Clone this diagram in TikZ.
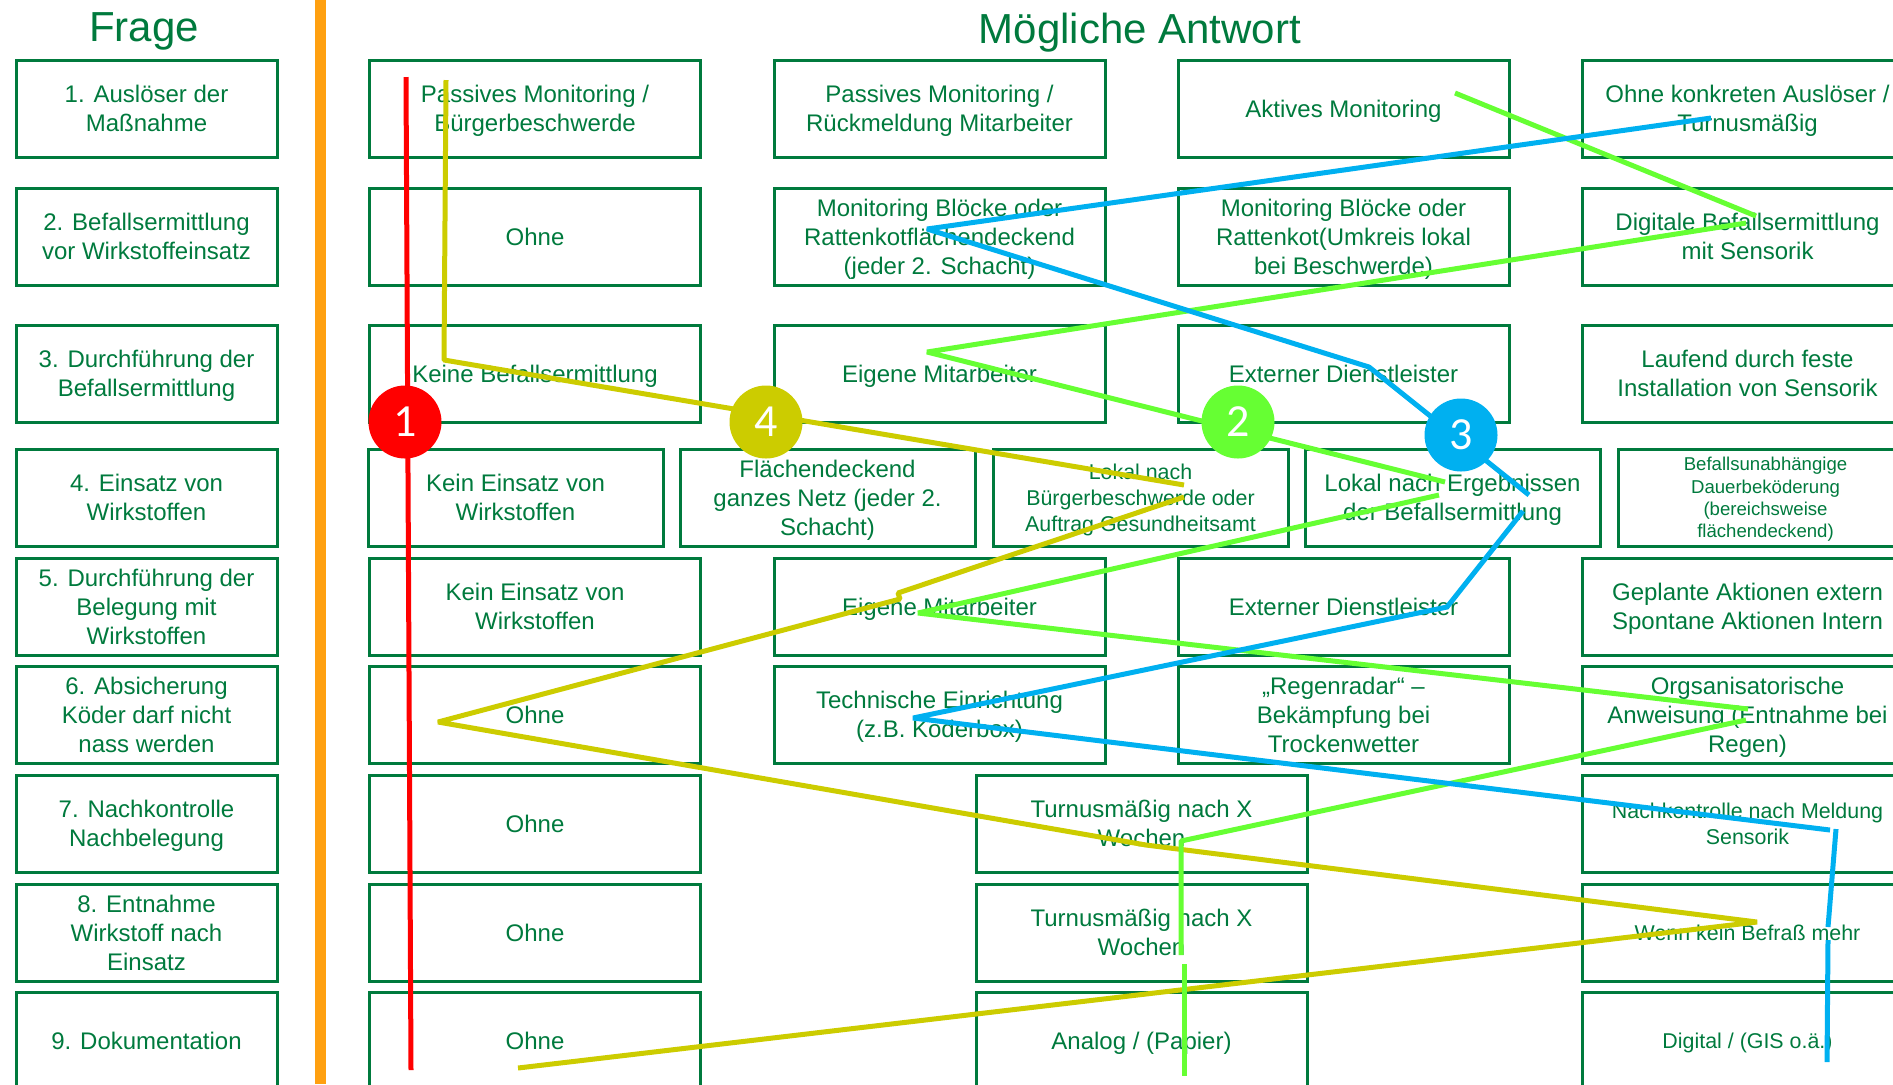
\documentclass[tikz,border=0pt]{standalone}
\usepackage{fontspec}
\setmainfont{Liberation Sans}
\newfontfamily\digitfont{Carlito}

\definecolor{frgreen}{RGB}{0,122,61}
\definecolor{barorange}{RGB}{255,160,16}
\definecolor{pathred}{RGB}{255,0,0}
\definecolor{pathyellow}{RGB}{204,204,0}
\definecolor{pathgreen}{RGB}{102,255,51}
\definecolor{pathblue}{RGB}{0,176,240}

\newcommand{\normaltext}{\fontsize{12}{14.6}\selectfont}
\newcommand{\smalltext}{\fontsize{10.7}{13}\selectfont}
\newcommand{\tinytext}{\fontsize{9.3}{11.1}\selectfont}

\begin{document}
\begin{tikzpicture}[x=0.5pt, y=-0.5pt,
    cellbox/.style={draw=frgreen, line width=1.5pt, text=frgreen, align=center,
        inner sep=0pt, minimum height=48.5pt, font=\normaltext,
        execute at begin node={\rule{0pt}{1em}},
        execute at end node={\rule[-0.212em]{0pt}{0.212em}}},
    stacked/.style={text depth=-3pt},
    qbox/.style={cellbox, minimum width=130.5pt},
    abox/.style={cellbox, minimum width=165.5pt},
    nbox/.style={cellbox, minimum width=147.5pt},
    heading/.style={text=frgreen, font=\fontsize{21}{25}\selectfont, anchor=base},
    route/.style={line width=2.5pt, line join=bevel},
    badge/.style={circle, fill=#1, text=white, minimum size=36.5pt, inner sep=0pt,
        font=\digitfont\fontsize{23}{23}\selectfont}]
    \useasboundingbox (0,0) rectangle (1893,1084);

    % Headings
    \node[heading] (frage) at (144,41) {Frage};
    \node[heading] (antwort) at (1140,43) {Mögliche Antwort};

    % Separator
    \fill[barorange] (315,0) rectangle (326,1084);

    % Questions
    \node[qbox, stacked] (q1) at (146.5,108.5) {1. Auslöser der\\Maßnahme};
    \node[qbox, stacked] (q2) at (146.5,236.5) {2. Befallsermittlung\\vor Wirkstoffeinsatz};
    \node[qbox, stacked] (q3) at (146.5,373.5) {3. Durchführung der\\Befallsermittlung};
    \node[qbox, stacked] (q4) at (146.5,497.5) {4. Einsatz von\\Wirkstoffen};
    \node[qbox, stacked] (q5) at (146.5,606.5) {5. Durchführung der\\Belegung mit\\Wirkstoffen};
    \node[qbox, stacked] (q6) at (146.5,714.5) {6. Absicherung\\Köder darf nicht\\nass werden};
    \node[qbox, stacked] (q7) at (146.5,823.5) {7. Nachkontrolle\\Nachbelegung};
    \node[qbox, stacked] (q8) at (146.5,932.5) {8. Entnahme\\Wirkstoff nach\\Einsatz};
    \node[qbox] (q9) at (146.5,1040.5) {9. Dokumentation};

    % Row 1
    \node[abox, stacked] (a1) at (535,108.5) {Passives Monitoring /\\Bürgerbeschwerde};
    \node[abox, stacked] (b1) at (939.5,108.5) {Passives Monitoring /\\Rückmeldung Mitarbeiter};
    \node[abox] (c1) at (1343.5,108.5) {Aktives Monitoring};
    \node[abox, stacked] (d1) at (1747.5,108.5) {Ohne konkreten Auslöser /\\Turnusmäßig};

    % Row 2
    \node[abox] (a2) at (535,236.5) {Ohne};
    \node[abox, stacked] (b2) at (939.5,236.5) {Monitoring Blöcke oder\\Rattenkotflächendeckend\\(jeder 2. Schacht)};
    \node[abox, stacked] (c2) at (1343.5,236.5) {Monitoring Blöcke oder\\Rattenkot(Umkreis lokal\\bei Beschwerde)};
    \node[abox, stacked] (d2) at (1747.5,236.5) {Digitale Befallsermittlung\\mit Sensorik};

    % Row 3
    \node[abox] (a3) at (535,373.5) {Keine Befallsermittlung};
    \node[abox] (b3) at (939.5,373.5) {Eigene Mitarbeiter};
    \node[abox] (c3) at (1343.5,373.5) {Externer Dienstleister};
    \node[abox, stacked] (d3) at (1747.5,373.5) {Laufend durch feste\\Installation von Sensorik};

    % Row 4
    \node[nbox, stacked] (a4) at (515.5,497.5) {Kein Einsatz von\\Wirkstoffen};
    \node[nbox, stacked] (b4) at (827.5,497.5) {Flächendeckend\\ganzes Netz (jeder 2.\\Schacht)};
    \node[nbox, stacked, font=\smalltext] (c4) at (1140.5,497.5) {Lokal nach\\Bürgerbeschwerde oder\\Auftrag Gesundheitsamt};
    \node[nbox, stacked] (d4) at (1452.5,497.5) {Lokal nach Ergebnissen\\der Befallsermittlung};
    \node[nbox, stacked, font=\tinytext] (e4) at (1765.5,497.5) {Befallsunabhängige\\Dauerbeköderung\\(bereichsweise\\flächendeckend)};

    % Row 5
    \node[abox, stacked] (a5) at (535,606.5) {Kein Einsatz von\\Wirkstoffen};
    \node[abox] (b5) at (939.5,606.5) {Eigene Mitarbeiter};
    \node[abox] (c5) at (1343.5,606.5) {Externer Dienstleister};
    \node[abox, stacked] (d5) at (1747.5,606.5) {Geplante Aktionen extern\\Spontane Aktionen Intern};

    % Row 6
    \node[abox] (a6) at (535,714.5) {Ohne};
    \node[abox, stacked] (b6) at (939.5,714.5) {Technische Einrichtung\\(z.B. Köderbox)};
    \node[abox, stacked] (c6) at (1343.5,714.5) {„Regenradar“ --\\Bekämpfung bei\\Trockenwetter};
    \node[abox, stacked] (d6) at (1747.5,714.5) {Orgsanisatorische\\Anweisung (Entnahme bei\\Regen)};

    % Rows 7 to 9
    \node[abox] (a7) at (535,823.5) {Ohne};
    \node[abox, stacked] (m7) at (1141.5,823.5) {Turnusmäßig nach X\\Wochen};
    \node[abox, stacked, font=\smalltext] (d7) at (1747.5,823.5) {Nachkontrolle nach Meldung\\Sensorik};
    \node[abox] (a8) at (535,932.5) {Ohne};
    \node[abox, stacked] (m8) at (1141.5,932.5) {Turnusmäßig nach X\\Wochen};
    \node[abox, font=\smalltext] (d8) at (1747.5,932.5) {Wenn kein Befraß mehr};
    \node[abox] (a9) at (535,1040.5) {Ohne};
    \node[abox] (m9) at (1141.5,1040.5) {Analog / (Papier)};
    \node[abox, font=\smalltext] (d9) at (1747.5,1040.5) {Digital / (GIS o.ä.)};

    % Path 1
    \coordinate (r1) at (406,77);
    \coordinate (r2) at (411,1070);
    \draw[route, pathred] (r1) -- (r2);

    % Path 4
    \coordinate (y1) at (446,80);
    \coordinate (y2) at (444,360);
    \coordinate (y3) at (1184,485);
    \coordinate (y4) at (1184,497);
    \coordinate (y5) at (898,593);
    \coordinate (y6) at (900,599);
    \coordinate (y7) at (438,722);
    \coordinate (y8) at (1146,845);
    \coordinate (y9) at (1757,922);
    \coordinate (y10) at (518,1068);
    \draw[route, pathyellow] (y1) -- (y2) -- (y3);
    \draw[route, pathyellow] (y4) -- (y5) -- (y6) -- (y7) -- (y8) -- (y9) -- (y10);

    % Path 2
    \coordinate (g1) at (1455,93);
    \coordinate (g2) at (1756,216);
    \coordinate (g3) at (1746,223);
    \coordinate (g4) at (927,352);
    \coordinate (g5) at (1445,482);
    \coordinate (g6) at (1439,495);
    \coordinate (g7) at (918,613);
    \coordinate (g8) at (1748,709);
    \coordinate (g9) at (1746,720);
    \coordinate (g10) at (1181,841);
    \coordinate (g11) at (1181,955);
    \coordinate (g12) at (1184,964);
    \coordinate (g13) at (1184,1076);
    \draw[route, pathgreen] (g1) -- (g2);
    \draw[route, pathgreen] (g3) -- (g4) -- (g5);
    \draw[route, pathgreen] (g6) -- (g7) -- (g8);
    \draw[route, pathgreen] (g9) -- (g10) -- (g11);
    \draw[route, pathgreen] (g12) -- (g13);

    % Path 3
    \coordinate (b1) at (1711,118);
    \coordinate (b2) at (927,229);
    \coordinate (b3) at (1369,367);
    \coordinate (b4) at (1529,495);
    \coordinate (b5) at (1523,511);
    \coordinate (b6) at (1447,607);
    \coordinate (b7) at (913,718);
    \coordinate (b8) at (1830,830);
    \coordinate (b9) at (1836,829);
    \coordinate (b10) at (1828,927);
    \coordinate (b11) at (1828,940);
    \coordinate (b12) at (1827,1062);
    \draw[route, pathblue] (b1) -- (b2) -- (b3) -- (b4);
    \draw[route, pathblue] (b5) -- (b6) -- (b7) -- (b8);
    \draw[route, pathblue] (b9) -- (b10);
    \draw[route, pathblue] (b11) -- (b12);

    % Numbers
    \node[badge=pathred] (n1) at (405,422) {1};
    \node[badge=pathgreen] (n2) at (1238,422) {2};
    \node[badge=pathblue] (n3) at (1461,435) {3};
    \node[badge=pathyellow] (n4) at (766,422) {4};
\end{tikzpicture}
\end{document}
